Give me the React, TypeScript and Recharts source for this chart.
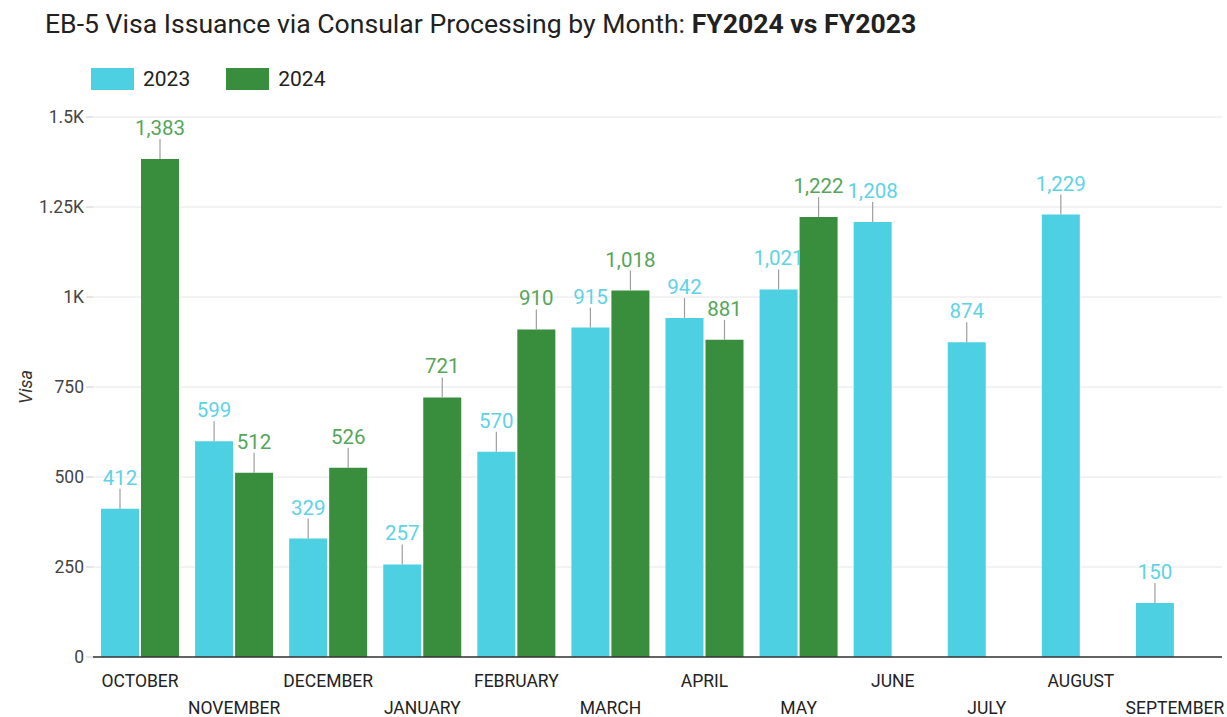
import { Bar, BarChart, CartesianGrid, XAxis, YAxis } from 'recharts';

const months = [
  'OCTOBER', 'NOVEMBER', 'DECEMBER', 'JANUARY', 'FEBRUARY', 'MARCH',
  'APRIL', 'MAY', 'JUNE', 'JULY', 'AUGUST', 'SEPTEMBER',
];
const fy2023 = [412, 599, 329, 257, 570, 915, 942, 1021, 1208, 874, 1229, 150];
const fy2024 = [1383, 512, 526, 721, 910, 1018, 881, 1222, null, null, null, null];
const yTicks = [0, 250, 500, 750, 1000, 1250, 1500];

const data = months.map((month, i) => ({ month, y2023: fy2023[i], y2024: fy2024[i] }));

const COLOR_2023 = '#4DD0E1';
const COLOR_2024 = '#388E3C';
const FONT = 'Roboto, "Noto Sans", sans-serif';

const formatTick = (v: number) => (v >= 1000 ? `${v / 1000}K` : `${v}`);

const makeLabel = (color: string) => (props: any) => {
  const { x, y, width, value } = props;
  if (value == null) return null;
  const cx = Number(x) + Number(width) / 2;
  return (
    <g>
      <line x1={cx} x2={cx} y1={y} y2={y - 20} stroke="#9e9e9e" strokeWidth={1.2} />
      <text x={cx} y={y - 24} textAnchor="middle" fontSize={20.5} fontFamily={FONT} fill={color}>
        {Number(value).toLocaleString('en-US')}
      </text>
    </g>
  );
};

const MonthTick = (props: any) => {
  const { x, y, payload, index } = props;
  const dy = index % 2 === 0 ? 22 : 49;
  return (
    <text x={x} y={y + dy} textAnchor="middle" fontSize={17.5} fontFamily={FONT} fill="#222">
      {payload.value}
    </text>
  );
};

const LegendItem = ({ color, label }: { color: string; label: string }) => (
  <div style={{ display: 'flex', alignItems: 'center', marginRight: 36 }}>
    <div style={{ width: 43, height: 22, background: color, marginRight: 9 }} />
    <span style={{ fontSize: 21, color: '#222' }}>{label}</span>
  </div>
);

const App = () => (
  <div style={{ position: 'absolute', left: 0, top: 0, width: 1227, height: 717, background: '#fff', fontFamily: FONT }}>
    <div style={{ position: 'absolute', left: 45, top: 8, fontSize: 26.6, color: '#212121', whiteSpace: 'nowrap' }}>
      EB-5 Visa Issuance via Consular Processing by Month: <b>FY2024 vs FY2023</b>
    </div>
    <div style={{ position: 'absolute', left: 91, top: 67, display: 'flex' }}>
      <LegendItem color={COLOR_2023} label="2023" />
      <LegendItem color={COLOR_2024} label="2024" />
    </div>
    <BarChart
      width={1227}
      height={717}
      data={data}
      margin={{ top: 117, right: 5, bottom: 5, left: 0 }}
      barCategoryGap={8}
      barGap={2}
    >
      <CartesianGrid vertical={false} stroke="#e6e6e6" />
      <XAxis
        dataKey="month"
        interval={0}
        height={55}
        tickLine={false}
        axisLine={{ stroke: '#333', strokeWidth: 1.5 }}
        tick={<MonthTick />}
      />
      <YAxis
        width={93}
        domain={[0, 1500]}
        ticks={yTicks}
        tickFormatter={formatTick}
        axisLine={false}
        tickLine={{ stroke: '#ccc' }}
        tickSize={7}
        tick={{ fontSize: 17.5, fill: '#444', fontFamily: FONT }}
        label={{
          value: 'Visa',
          angle: -90,
          position: 'insideLeft',
          offset: 26,
          style: { fontSize: 18, fontStyle: 'italic', fill: '#333', fontFamily: FONT, textAnchor: 'middle' },
        }}
      />
      <Bar dataKey="y2023" fill={COLOR_2023} isAnimationActive={false} label={makeLabel('#5ED3E6')} />
      <Bar dataKey="y2024" fill={COLOR_2024} isAnimationActive={false} label={makeLabel('#55A659')} />
    </BarChart>
  </div>
);

export default App;
